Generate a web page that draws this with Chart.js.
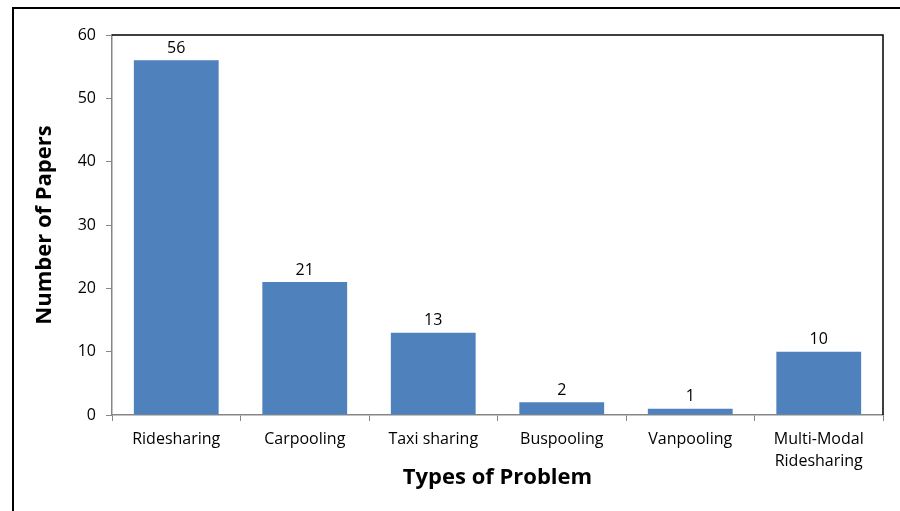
<!DOCTYPE html>
<html>
<head>
<meta charset="utf-8">
<script src="https://cdn.jsdelivr.net/npm/chart.js@4/dist/chart.umd.min.js"></script>
<style>
  html, body { margin: 0; padding: 0; background: #fff; }
  #wrap { width: 900px; height: 511px; }
</style>
</head>
<body>
<div id="wrap"><canvas id="barChart" width="900" height="511"></canvas></div>
<script>
// Data
const categories = ["Ridesharing", "Carpooling", "Taxi sharing", "Buspooling", "Vanpooling", ["Multi-Modal", "Ridesharing"]];
const papers = [56, 21, 13, 2, 1, 10];
const yTicks = [0, 10, 20, 30, 40, 50, 60];

const FONT = "'Open Sans', 'Noto Sans', sans-serif";

// outer frame, plot frame (top/right) and value labels
const decor = {
    id: "decor",
    beforeDraw(chart) {
        const ctx = chart.ctx;
        ctx.save();
        ctx.fillStyle = "#fff";
        ctx.fillRect(0, 0, chart.width, chart.height);
        ctx.strokeStyle = "#000";
        ctx.lineWidth = 2;
        ctx.beginPath();
        ctx.moveTo(13, chart.height);
        ctx.lineTo(13, 8);
        ctx.lineTo(chart.width, 8);
        ctx.stroke();
        ctx.restore();
    },
    afterDraw(chart) {
        const ctx = chart.ctx;
        const a = chart.chartArea;
        ctx.save();
        ctx.strokeStyle = "#000";
        ctx.lineWidth = 1.5;
        ctx.beginPath();
        ctx.moveTo(a.left, a.top);
        ctx.lineTo(a.right, a.top);
        ctx.lineTo(a.right, a.bottom);
        ctx.stroke();
        ctx.fillStyle = "#000";
        ctx.font = "16px " + FONT;
        ctx.textAlign = "center";
        ctx.textBaseline = "bottom";
        chart.getDatasetMeta(0).data.forEach(function (bar, i) {
            ctx.fillText(String(papers[i]), bar.x, bar.y - 4);
        });
        ctx.restore();
    }
};

new Chart(document.getElementById("barChart").getContext("2d"), {
    type: "bar",
    data: {
        labels: categories,
        datasets: [{
            data: papers,
            backgroundColor: "#4F81BD",
            borderWidth: 0,
            categoryPercentage: 0.66,
            barPercentage: 1.0
        }]
    },
    options: {
        responsive: false,
        animation: false,
        layout: { padding: { top: 35, right: 17, left: 0, bottom: 0 } },
        plugins: { legend: { display: false }, tooltip: { enabled: false } },
        scales: {
            x: {
                afterFit(scale) { scale.height = 96; },
                grid: { display: true, drawOnChartArea: false, offset: true, tickLength: 6, color: "#868686" },
                border: { color: "#868686", width: 1.5 },
                ticks: { color: "#000", font: { family: FONT, size: 16, lineHeight: 1.4 }, padding: 7, maxRotation: 0 },
                title: {
                    display: true,
                    text: "Types of Problem",
                    color: "#000",
                    font: { family: FONT, size: 22, weight: "bold" },
                    padding: { top: 0, bottom: 20 }
                }
            },
            y: {
                min: 0,
                max: 60,
                afterFit(scale) { scale.width = 112; },
                afterBuildTicks(scale) { scale.ticks = yTicks.map(function (v) { return { value: v }; }); },
                grid: { display: true, drawOnChartArea: false, tickLength: 6, color: "#868686" },
                border: { color: "#868686", width: 1.5 },
                ticks: { color: "#000", font: { family: FONT, size: 16 }, padding: 10 },
                title: {
                    display: true,
                    text: "Number of Papers",
                    color: "#000",
                    font: { family: FONT, size: 22, weight: "bold" },
                    padding: { top: 32, bottom: 0 }
                }
            }
        }
    },
    plugins: [decor]
});
</script>
</body>
</html>
